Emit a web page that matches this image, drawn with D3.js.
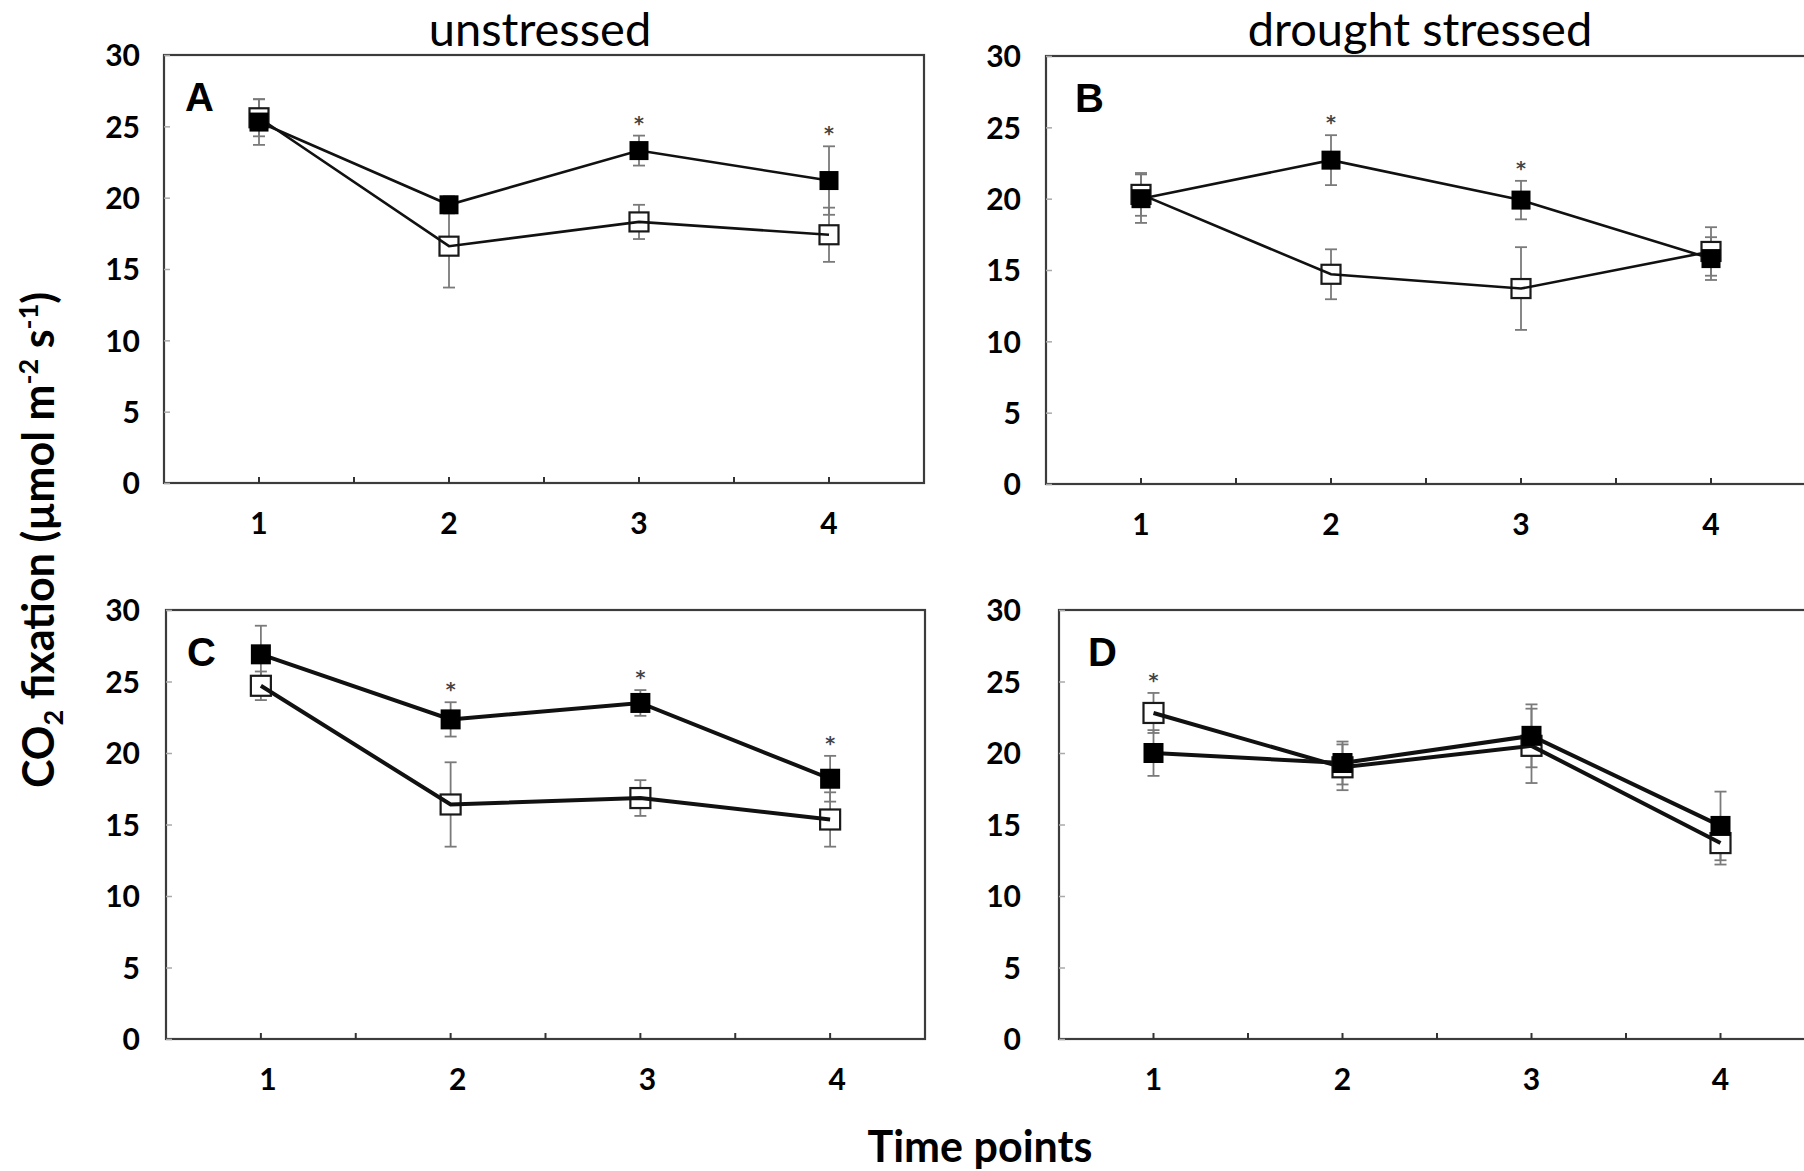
<!DOCTYPE html>
<html>
<head>
<meta charset="utf-8">
<script src="https://cdn.jsdelivr.net/npm/d3@7"></script>
<style>
  html, body { margin: 0; padding: 0; background: #fff; }
  svg { display: block; }
</style>
</head>
<body>
<svg id="chart" width="1804" height="1171"></svg>
<script>
// ---------------- DATA ----------------
const categories = ["1", "2", "3", "4"];
const yTickValues = [0, 5, 10, 15, 20, 25, 30];
const columnTitles = ["unstressed", "drought stressed"];
const panelLetters = ["A", "B", "C", "D"];
const xAxisTitle = "Time points";

// Panel A (unstressed, top)
const filledA    = [25.3, 19.5, 23.3, 21.2];
const filledErrA = [1.6, 0.6, 1.05, 2.4];
const openA      = [25.6, 16.6, 18.3, 17.4];
const openErrA   = [1.3, 2.9, 1.2, 1.9];
const starsA     = ["3", "4"];

// Panel B (drought stressed, top)
const filledB    = [20.0, 22.7, 19.9, 15.8];
const filledErrB = [1.7, 1.75, 1.35, 1.5];
const openB      = [20.3, 14.7, 13.7, 16.3];
const openErrB   = [1.5, 1.75, 2.9, 1.7];
const starsB     = ["2", "3"];

// Panel C (unstressed, bottom)
const filledC    = [26.9, 22.35, 23.5, 18.2];
const filledErrC = [2.0, 1.2, 0.9, 1.6];
const openC      = [24.7, 16.4, 16.85, 15.35];
const openErrC   = [1.0, 2.95, 1.25, 1.9];
const starsC     = ["2", "3", "4"];

// Panel D (drought stressed, bottom)
const filledD    = [20.0, 19.3, 21.2, 14.9];
const filledErrD = [1.6, 1.5, 2.2, 2.4];
const openD      = [22.8, 19.0, 20.5, 13.7];
const openErrD   = [1.4, 1.6, 2.6, 1.5];
const starsD     = ["1"];

// ---------------- LAYOUT ----------------
const panels = [
  { letter: panelLetters[0], filled: filledA, filledErr: filledErrA, open: openA, openErr: openErrA, stars: starsA,
    x0: 164, x1: 924, yTop: 55, yBot: 483, lw: 2.6, ms: 19, labelRight: 140, xLabelDx: 0 },
  { letter: panelLetters[1], filled: filledB, filledErr: filledErrB, open: openB, openErr: openErrB, stars: starsB,
    x0: 1046, x1: 1806, yTop: 56, yBot: 484, lw: 2.6, ms: 19, labelRight: 1021, xLabelDx: 0 },
  { letter: panelLetters[2], filled: filledC, filledErr: filledErrC, open: openC, openErr: openErrC, stars: starsC,
    x0: 166, x1: 925, yTop: 610, yBot: 1039, lw: 4, ms: 20, labelRight: 140, xLabelDx: 7 },
  { letter: panelLetters[3], filled: filledD, filledErr: filledErrD, open: openD, openErr: openErrD, stars: starsD,
    x0: 1059, x1: 1815, yTop: 610, yBot: 1039, lw: 4, ms: 20, labelRight: 1021, xLabelDx: 0 }
];

const FONT = "Lato, 'Open Sans', sans-serif";
const svg = d3.select("#chart");
svg.append("rect").attr("width", 1804).attr("height", 1171).attr("fill", "#fff");

panels.forEach(p => {
  const x = d3.scaleBand().domain(categories).range([p.x0, p.x1]).padding(0);
  const y = d3.scaleLinear().domain([0, 30]).range([p.yBot, p.yTop]);
  const cx = c => x(c) + x.bandwidth() / 2;
  const g = svg.append("g");

  // frame
  g.append("rect")
    .attr("x", p.x0).attr("y", p.yTop)
    .attr("width", p.x1 - p.x0).attr("height", p.yBot - p.yTop)
    .attr("fill", "none").attr("stroke", "#3c3c3c").attr("stroke-width", 2.2);

  // y axis (labels + faint inward ticks)
  const yAxis = g.append("g")
    .attr("transform", `translate(${p.x0},0)`)
    .call(d3.axisLeft(y).tickValues(yTickValues).tickSizeInner(-6).tickSizeOuter(0).tickPadding(0));
  yAxis.select(".domain").remove();
  yAxis.selectAll(".tick line").attr("stroke", "#aaa").attr("stroke-width", 1.5);
  yAxis.selectAll(".tick text")
    .attr("x", p.labelRight - p.x0)
    .attr("dy", "0.36em")
    .attr("fill", "#000")
    .style("font-family", FONT).style("font-weight", "bold").style("font-size", "30px");

  // x axis labels + major ticks (inward)
  const xAxis = g.append("g")
    .attr("transform", `translate(0,${p.yBot})`)
    .call(d3.axisBottom(x).tickSizeInner(-6).tickSizeOuter(0).tickPadding(0));
  xAxis.select(".domain").remove();
  xAxis.selectAll(".tick line").attr("stroke", "#333").attr("stroke-width", 2);
  xAxis.selectAll(".tick text")
    .attr("y", 51).attr("dy", 0).attr("dx", p.xLabelDx)
    .attr("fill", "#000")
    .style("font-family", FONT).style("font-weight", "bold").style("font-size", "30px");
  // minor ticks at band boundaries
  g.selectAll(".minor").data(categories.slice(1)).enter().append("line")
    .attr("x1", c => x(c)).attr("x2", c => x(c))
    .attr("y1", p.yBot).attr("y2", p.yBot - 6)
    .attr("stroke", "#333").attr("stroke-width", 2);

  // error bars
  const series = [
    { vals: p.open, errs: p.openErr },
    { vals: p.filled, errs: p.filledErr }
  ];
  const capW = 6;
  series.forEach(s => {
    categories.forEach((c, i) => {
      const xc = cx(c), yt = y(s.vals[i] + s.errs[i]), yb = y(s.vals[i] - s.errs[i]);
      g.append("line").attr("x1", xc).attr("x2", xc).attr("y1", yt).attr("y2", yb)
        .attr("stroke", "#7a7a7a").attr("stroke-width", 1.8);
      [yt, yb].forEach(yy => g.append("line")
        .attr("x1", xc - capW).attr("x2", xc + capW).attr("y1", yy).attr("y2", yy)
        .attr("stroke", "#7a7a7a").attr("stroke-width", 1.8));
    });
  });

  // significance stars
  g.selectAll(".star").data(p.stars).enter().append("text")
    .attr("x", c => cx(c))
    .attr("y", c => {
      const i = categories.indexOf(c);
      const top = Math.max(p.filled[i] + p.filledErr[i], p.open[i] + p.openErr[i]);
      return y(top) - 16 + 10;
    })
    .attr("text-anchor", "middle")
    .attr("fill", "#444")
    .style("font-family", "'DejaVu Sans', sans-serif").style("font-weight", "bold").style("font-size", "19px")
    .text("*");

  const line = d3.line().x((d, i) => cx(categories[i])).y(d => y(d));
  const ms = p.ms;

  // open markers (white fill), then lines, then filled markers
  g.selectAll(".openm").data(p.open).enter().append("rect")
    .attr("x", (d, i) => cx(categories[i]) - ms / 2).attr("y", d => y(d) - ms / 2)
    .attr("width", ms).attr("height", ms)
    .attr("fill", "#fff").attr("stroke", "#1a1a1a").attr("stroke-width", 2.2);

  g.append("path").datum(p.open).attr("d", line)
    .attr("fill", "none").attr("stroke", "#111").attr("stroke-width", p.lw);
  g.append("path").datum(p.filled).attr("d", line)
    .attr("fill", "none").attr("stroke", "#111").attr("stroke-width", p.lw);

  g.selectAll(".filledm").data(p.filled).enter().append("rect")
    .attr("x", (d, i) => cx(categories[i]) - ms / 2).attr("y", d => y(d) - ms / 2)
    .attr("width", ms).attr("height", ms)
    .attr("fill", "#000");

  // panel letter
  g.append("text")
    .attr("x", p.x0 + (p.x0 > 1000 ? 29 : 21)).attr("y", p.yTop + 56)
    .attr("fill", "#000")
    .style("font-family", "'Liberation Sans', Arial, sans-serif").style("font-weight", "bold").style("font-size", "40px")
    .text(p.letter);
});

// column titles
svg.append("text").attr("x", 540).attr("y", 46).attr("text-anchor", "middle")
  .style("font-family", FONT).style("font-size", "47px").attr("fill", "#000").text(columnTitles[0]);
svg.append("text").attr("x", 1420).attr("y", 46).attr("text-anchor", "middle")
  .style("font-family", FONT).style("font-size", "47px").attr("fill", "#000").text(columnTitles[1]);

// x axis title
svg.append("text").attr("x", 980).attr("y", 1162).attr("text-anchor", "middle")
  .style("font-family", FONT).style("font-weight", "bold").style("font-size", "43px")
  .attr("fill", "#000").text(xAxisTitle);

// y axis title with sub/superscripts
const yt = svg.append("text")
  .attr("transform", "translate(54,540) rotate(-90)")
  .attr("text-anchor", "middle")
  .style("font-family", FONT).style("font-weight", "bold").style("font-size", "43px")
  .attr("fill", "#000");
yt.append("tspan").text("CO");
yt.append("tspan").attr("dy", 9).style("font-size", "27px").text("2");
yt.append("tspan").attr("dy", -9).text(" fixation (µmol m");
yt.append("tspan").attr("dy", -16).style("font-size", "27px").text("-2");
yt.append("tspan").attr("dy", 16).text(" s");
yt.append("tspan").attr("dy", -16).style("font-size", "27px").text("-1");
yt.append("tspan").attr("dy", 16).text(")");
</script>
</body>
</html>
